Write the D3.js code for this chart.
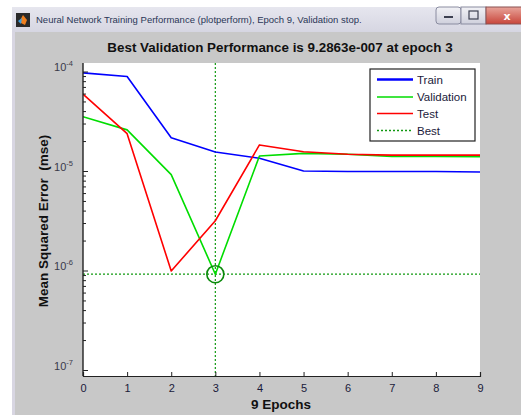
<!DOCTYPE html>
<html>
<head>
<meta charset="utf-8">
<script src="https://cdn.jsdelivr.net/npm/d3@7"></script>
<style>
  html, body { margin: 0; padding: 0; background: #ffffff; }
  svg { display: block; }
</style>
</head>
<body>
<svg id="chart" width="521" height="415"></svg>
<script>
// Training record: mean squared error per epoch
const epochs = [0, 1, 2, 3, 4, 5, 6, 7, 8, 9];
const trainMse = [9.8e-5, 9.0e-5, 2.18e-5, 1.57e-5, 1.36e-5, 1.01e-5, 1.0e-5, 1.0e-5, 1.0e-5, 9.9e-6];
const validationMse = [3.55e-5, 2.62e-5, 9.3e-6, 9.2863e-7, 1.43e-5, 1.52e-5, 1.49e-5, 1.42e-5, 1.42e-5, 1.41e-5];
const testMse = [6.0e-5, 2.4e-5, 1.0e-6, 3.2e-6, 1.85e-5, 1.58e-5, 1.49e-5, 1.46e-5, 1.46e-5, 1.46e-5];
const bestEpoch = 3;
const bestPerf = 9.2863e-7;
const xTickValues = [0, 1, 2, 3, 4, 5, 6, 7, 8, 9];
const yTickExponents = [-4, -5, -6, -7];
const legendLabels = ["Train", "Validation", "Test", "Best"];

const svg = d3.select("#chart");

// ---- window frame ----
const defs = svg.append("defs");
const tb = defs.append("linearGradient").attr("id", "titlebar").attr("x1", 0).attr("y1", 0).attr("x2", 0).attr("y2", 1);
tb.append("stop").attr("offset", "0%").attr("stop-color", "#e6e6ee");
tb.append("stop").attr("offset", "100%").attr("stop-color", "#d6d6e2");
const cb = defs.append("linearGradient").attr("id", "closebtn").attr("x1", 0).attr("y1", 0).attr("x2", 0).attr("y2", 1);
cb.append("stop").attr("offset", "0%").attr("stop-color", "#e8a49a");
cb.append("stop").attr("offset", "100%").attr("stop-color", "#c8453a");
const bb = defs.append("linearGradient").attr("id", "btn").attr("x1", 0).attr("y1", 0).attr("x2", 0).attr("y2", 1);
bb.append("stop").attr("offset", "0%").attr("stop-color", "#f2f2f6");
bb.append("stop").attr("offset", "100%").attr("stop-color", "#cfd0dc");

svg.append("rect").attr("x", 12).attr("y", 7).attr("width", 509).attr("height", 408).attr("fill", "#d8d6e2");
svg.append("rect").attr("x", 12).attr("y", 7).attr("width", 509).attr("height", 25).attr("fill", "url(#titlebar)");
svg.append("rect").attr("x", 15).attr("y", 32).attr("width", 506).attr("height", 383).attr("fill", "#c8c8c8");

// app icon
svg.append("rect").attr("x", 16).attr("y", 13).attr("width", 14).attr("height", 14).attr("fill", "#2a2a2a");
svg.append("path").attr("d", "M19,22 L23,15 L27,20 L25,25 Z").attr("fill", "#f08020");
svg.append("path").attr("d", "M18,21 L22,18 L21,24 Z").attr("fill", "#3aa0e0");

svg.append("text").attr("x", 36).attr("y", 23)
  .attr("font-family", "Liberation Sans, Arial, sans-serif").attr("font-size", 9.5)
  .attr("fill", "#2a3656")
  .text("Neural Network Training Performance (plotperform), Epoch 9, Validation stop.");

// caption buttons
svg.append("rect").attr("x", 436).attr("y", 7).attr("width", 25).attr("height", 17).attr("rx", 3).attr("fill", "url(#btn)").attr("stroke", "#8a8ca0");
svg.append("rect").attr("x", 444).attr("y", 16).attr("width", 9).attr("height", 2).attr("fill", "#3c4050");
svg.append("rect").attr("x", 461).attr("y", 7).attr("width", 25).attr("height", 17).attr("fill", "url(#btn)").attr("stroke", "#8a8ca0");
svg.append("rect").attr("x", 469).attr("y", 11).attr("width", 9).attr("height", 8).attr("fill", "none").attr("stroke", "#3c4050").attr("stroke-width", 1.2);
svg.append("rect").attr("x", 486).attr("y", 7).attr("width", 36).attr("height", 17).attr("fill", "url(#closebtn)").attr("stroke", "#8a5050");
svg.append("text").attr("x", 507).attr("y", 20).attr("text-anchor", "middle")
  .attr("font-family", "DejaVu Sans, sans-serif").attr("font-weight", "bold").attr("font-size", 11)
  .attr("fill", "#ffffff").text("x");

// ---- axes ----
const plot = { left: 83, right: 480, top: 63, bottom: 376 };
const x = d3.scaleLinear().domain([0, 9]).range([plot.left, plot.right]);
const y = d3.scaleLog().domain([1e-7, 1e-4]).range([370.5, 72]);

svg.append("rect")
  .attr("x", plot.left).attr("y", plot.top)
  .attr("width", plot.right - plot.left).attr("height", plot.bottom - plot.top)
  .attr("fill", "#ffffff");

const gPlot = svg.append("g");
gPlot.append("clipPath").attr("id", "clip").append("rect")
  .attr("x", plot.left).attr("y", plot.top)
  .attr("width", plot.right - plot.left).attr("height", plot.bottom - plot.top);
const inner = gPlot.append("g").attr("clip-path", "url(#clip)");

// best markers
const bestColor = "#119911";
inner.append("line")
  .attr("x1", x(bestEpoch)).attr("x2", x(bestEpoch))
  .attr("y1", plot.top).attr("y2", plot.bottom)
  .attr("stroke", bestColor).attr("stroke-width", 1.2).attr("stroke-dasharray", "2,2");
inner.append("line")
  .attr("x1", plot.left).attr("x2", plot.right)
  .attr("y1", y(bestPerf)).attr("y2", y(bestPerf))
  .attr("stroke", bestColor).attr("stroke-width", 1.2).attr("stroke-dasharray", "2,2");

const line = d3.line().x((d, i) => x(epochs[i])).y(d => y(d));
const series = [
  { values: trainMse, color: "#0000ff" },
  { values: validationMse, color: "#00dd00" },
  { values: testMse, color: "#ff0000" }
];
series.forEach(s => {
  inner.append("path").datum(s.values)
    .attr("d", line)
    .attr("fill", "none")
    .attr("stroke", s.color)
    .attr("stroke-width", 1.6)
    .attr("stroke-linejoin", "round");
});

inner.append("circle")
  .attr("cx", x(bestEpoch)).attr("cy", y(bestPerf)).attr("r", 8.5)
  .attr("fill", "none").attr("stroke", "#0b8a0b").attr("stroke-width", 1.6);

// x axis
const xAxis = d3.axisBottom(x).tickValues(xTickValues).tickSize(-4).tickPadding(6).tickFormat(d3.format("d"));
const gx = svg.append("g").attr("transform", `translate(0,${plot.bottom})`).call(xAxis);
gx.select(".domain").attr("stroke", "#222").attr("stroke-width", 1.2);
gx.selectAll(".tick line").attr("stroke", "#222");
gx.selectAll("text").attr("font-family", "Liberation Sans, Arial, sans-serif")
  .attr("font-size", 11).attr("fill", "#1a1a3a").attr("dy", "0.9em");

// y axis: decades plus minor ticks
const gy = svg.append("g");
gy.append("line").attr("x1", plot.left).attr("x2", plot.left)
  .attr("y1", plot.top).attr("y2", plot.bottom)
  .attr("stroke", "#222").attr("stroke-width", 1.4);
const minorTicks = [];
for (let e = -7; e < -4; e++) {
  for (let m = 2; m <= 9; m++) minorTicks.push(m * Math.pow(10, e));
}
gy.selectAll("line.minor").data(minorTicks).enter().append("line")
  .attr("class", "minor")
  .attr("x1", plot.left).attr("x2", plot.left + 3)
  .attr("y1", d => y(d)).attr("y2", d => y(d))
  .attr("stroke", "#222");
gy.selectAll("line.major").data(yTickExponents).enter().append("line")
  .attr("class", "major")
  .attr("x1", plot.left).attr("x2", plot.left + 5)
  .attr("y1", d => y(Math.pow(10, d))).attr("y2", d => y(Math.pow(10, d)))
  .attr("stroke", "#222");
const yl = gy.selectAll("text.ylab").data(yTickExponents).enter().append("text")
  .attr("class", "ylab")
  .attr("x", 73).attr("y", d => y(Math.pow(10, d)) - 1)
  .attr("text-anchor", "end")
  .attr("font-family", "Liberation Sans, Arial, sans-serif")
  .attr("fill", "#3a3a4a");
yl.append("tspan").attr("font-size", 11).text("10");
yl.append("tspan").attr("font-size", 7.5).attr("dy", -5).text(d => String(d));

// titles
svg.append("text").attr("x", 280).attr("y", 52).attr("text-anchor", "middle")
  .attr("font-family", "Liberation Sans, Arial, sans-serif").attr("font-weight", "bold")
  .attr("font-size", 13.4).attr("fill", "#111")
  .text("Best Validation Performance is 9.2863e-007 at epoch 3");
svg.append("text").attr("x", 281).attr("y", 409).attr("text-anchor", "middle")
  .attr("font-family", "Liberation Sans, Arial, sans-serif").attr("font-weight", "bold")
  .attr("font-size", 13.5).attr("fill", "#111")
  .text("9 Epochs");
svg.append("text")
  .attr("transform", "translate(48,221) rotate(-90)")
  .attr("text-anchor", "middle")
  .attr("font-family", "Liberation Sans, Arial, sans-serif").attr("font-weight", "bold")
  .attr("font-size", 13.5).attr("fill", "#111")
  .attr("xml:space", "preserve")
  .text("Mean Squared Error  (mse)");

// legend
const lg = svg.append("g");
lg.append("rect").attr("x", 370).attr("y", 69).attr("width", 105).attr("height", 72)
  .attr("fill", "#ffffff").attr("stroke", "#222").attr("stroke-width", 1.2);
const legendStyles = [
  { color: "#0000ff", width: 2.6, dash: null },
  { color: "#00dd00", width: 1.3, dash: null },
  { color: "#ff0000", width: 1.3, dash: null },
  { color: bestColor, width: 1.3, dash: "2,2" }
];
const rowY = [79.5, 97, 113.5, 130.5];
legendLabels.forEach((lab, i) => {
  const st = legendStyles[i];
  lg.append("line").attr("x1", 377).attr("x2", 413)
    .attr("y1", rowY[i]).attr("y2", rowY[i])
    .attr("stroke", st.color).attr("stroke-width", st.width)
    .attr("stroke-dasharray", st.dash);
  lg.append("text").attr("x", 417).attr("y", rowY[i] + 4)
    .attr("font-family", "Liberation Sans, Arial, sans-serif")
    .attr("font-size", 11.5).attr("fill", "#1a1a3a").text(lab);
});
</script>
</body>
</html>
